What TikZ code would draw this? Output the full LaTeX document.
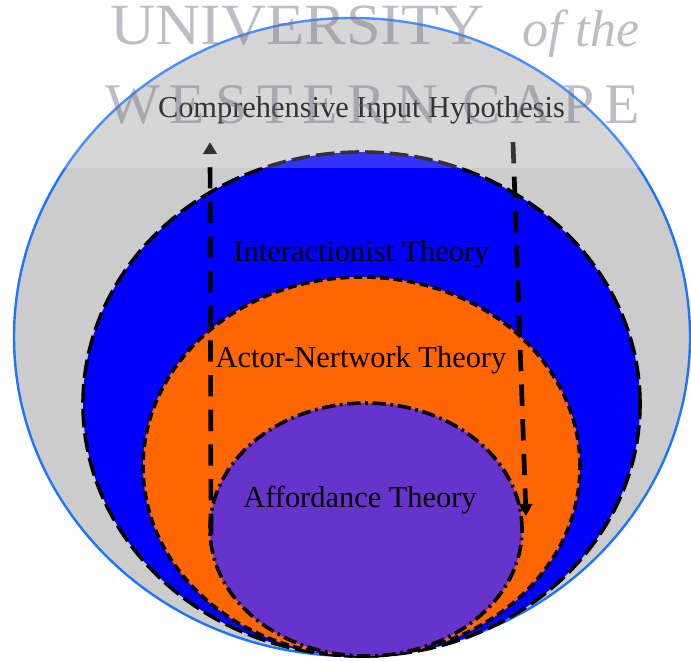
\documentclass[tikz,border=0pt]{standalone}
\usepackage{fontspec}
\setmainfont{Liberation Serif}
\newfontfamily\wmfont[LetterSpace=17]{Liberation Serif}
\usepackage{graphicx}
\usepackage{tikz}
\usetikzlibrary{arrows.meta}
\definecolor{ctSky}{HTML}{1A75FF}
\definecolor{ctGrey}{HTML}{CCCCCC}
\definecolor{ctBlue}{HTML}{0000FF}
\definecolor{ctOrange}{HTML}{FF6600}
\definecolor{ctViolet}{HTML}{6633CC}
\definecolor{ctMark}{HTML}{6E6E80}
\tikzset{
  ct diagram/.style={font=\fontsize{22.8}{27}\selectfont, text=black,
    line join=round},
  ct ring/.style={draw=black, line width=2.7pt},
  ct label/.style={anchor=base, inner sep=0pt},
  ct flow/.style={draw=black, line width=3.5pt, dash pattern=on 16pt off 10pt,
    -{Triangle[length=9pt,width=10pt]}},
  ct mark/.style={inner sep=0pt, text=ctMark, text opacity=0.45}
}

\begin{document}
\begin{tikzpicture}[ct diagram,x=0.75pt,y=0.75pt]
\useasboundingbox (0,0) rectangle (691,-660);
% nested theories
\filldraw[fill=ctGrey,draw=ctSky,line width=1.8pt] (352,-337) ellipse [x radius=338, y radius=319];
\filldraw[ct ring,fill=ctBlue,dash pattern=on 14pt off 4.5pt] (361.5,-404) ellipse [x radius=278.5, y radius=252];
\filldraw[ct ring,fill=ctOrange,dash pattern=on 6.5pt off 3.5pt] (361.5,-466.5) ellipse [x radius=218.5, y radius=189.5];
\filldraw[ct ring,fill=ctViolet,dash pattern=on 10pt off 3.5pt on 2pt off 3.5pt] (366,-529.5) ellipse [x radius=156, y radius=126.5];
% input going in and out
\coordinate (upFoot) at (211,-535);
\coordinate (upHead) at (210,-142);
\coordinate (downTop) at (513,-142);
\coordinate (downHead) at (526,-516);
\draw[ct flow] (upFoot) -- (upHead);
\draw[ct flow] (downTop) -- (downHead);
\node[ct label] (hypothesis) at (361.5,-117) {Comprehensive Input Hypothesis};
\node[ct label] (interaction) at (361.5,-261) {Interactionist Theory};
\node[ct label] (actor) at (361,-367) {Actor-Nertwork Theory};
\node[ct label] (affordance) at (360,-507) {Affordance Theory};
% stamp
\fill[white,opacity=0.2] (0,0) rectangle (691,-168);
\node[ct mark,anchor=south west] (stampTop) at (110,-46) {\resizebox{281pt}{29pt}{UNIVERSITY}};
\node[ct mark,anchor=base west,font=\fontsize{39}{40}\selectfont\itshape] (stampOf) at (522,-46) {of the};
\node[ct mark,anchor=south west] (stampBottom) at (105,-125) {\resizebox{401pt}{28.5pt}{\wmfont WESTERN CAPE}};
\end{tikzpicture}
\end{document}
